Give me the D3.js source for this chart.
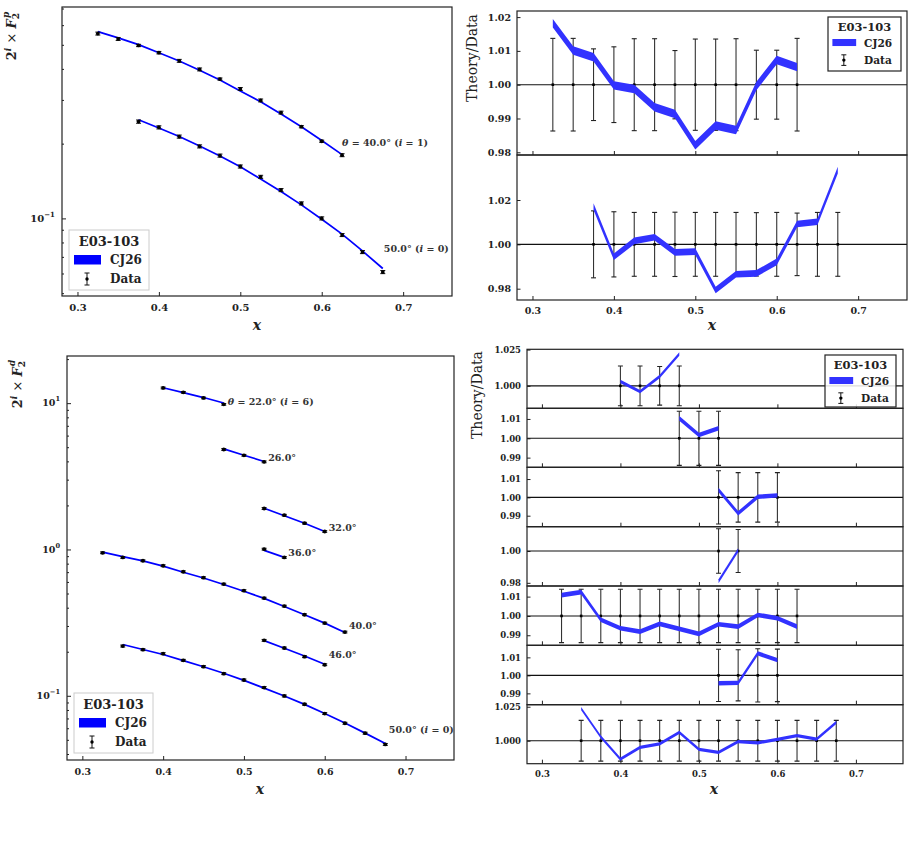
<!DOCTYPE html>
<html>
<head>
<meta charset="utf-8">
<script src="https://cdn.jsdelivr.net/npm/d3@7"></script>
<style>
body{margin:0;background:#fff}
text{font-family:"DejaVu Serif",serif;font-weight:bold;fill:#222}
</style>
</head>
<body>
<svg id="chart" width="914" height="849"></svg>
<script>
// ---- data ----
var xTicks = [0.3, 0.4, 0.5, 0.6, 0.7]

// proton, plotted values are 2^i * F2
var pX40 = [0.325,0.35,0.375,0.4,0.425,0.45,0.475,0.5,0.525,0.55,0.575,0.6,0.625]
var pF40 = [0.555,0.528,0.497,0.465,0.431,0.398,0.364,0.332,0.2985,0.2667,0.234,0.2045,0.1797]
var pErr40 = [0.0137,0.0137,0.0106,0.0112,0.0136,0.0136,0.0101,0.0135,0.0135,0.0136,0.0102,0.0102,0.0137]
var pRatio40 = [1.0182,1.0101,1.0081,0.9998,0.9987,0.9933,0.9913,0.9821,0.9879,0.9866,0.9996,1.0073,1.0052]

var pX50 = [0.375,0.4,0.425,0.45,0.475,0.5,0.525,0.55,0.575,0.6,0.625,0.65,0.675]
var pF50 = [0.2453,0.2326,0.2135,0.195,0.179,0.1618,0.147,0.130,0.1149,0.1,0.0857,0.0732,0.0608]
var pErr50 = [0.0151,0.0147,0.0144,0.0144,0.0145,0.0144,0.0144,0.0144,0.0143,0.0144,0.0141,0.0144,0.0144]
var pRatio50 = [1.017,0.9944,1.0016,1.0032,0.9964,0.9967,0.9794,0.9865,0.9869,0.9921,1.0092,1.0102,1.0335]

// deuteron, plotted values are 2^i * F2
var dX22 = [0.4,0.425,0.45,0.475]
var dF22 = [12.70,11.85,10.85,9.81]
var dErr22 = [0.0137,0.0137,0.0133,0.0137]
var dRatio22 = [1.003,0.996,1.0065,1.022]

var dX26 = [0.475,0.5,0.525]
var dF26 = [4.82,4.40,3.97]
var dErr26 = [0.014,0.014,0.014]
var dRatio26 = [1.0103,1.0017,1.0052]

var dX32 = [0.525,0.55,0.575,0.6]
var dF32 = [1.905,1.714,1.512,1.327]
var dErr32 = [0.0145,0.0135,0.0135,0.0135]
var dRatio32 = [1.004,0.9913,1.0003,1.0011]

var dX36 = [0.525,0.55]
var dF36 = [1.005,0.882]
var dErr36 = [0.014,0.0135]
var dRatio36 = [0.981,1.0005]

var dX40 = [0.325,0.35,0.375,0.4,0.425,0.45,0.475,0.5,0.525,0.55,0.575,0.6,0.625]
var dF40 = [0.949,0.882,0.837,0.774,0.704,0.641,0.580,0.523,0.465,0.410,0.358,0.314,0.2726]
var dErr40 = [0.0138,0.0138,0.0138,0.0138,0.0138,0.0138,0.0138,0.0138,0.0138,0.0138,0.0138,0.0138,0.0138]
var dRatio40 = [1.0108,1.0123,0.998,0.9936,0.9919,0.9959,0.9933,0.9907,0.9957,0.9945,1.0005,0.9988,0.9945]

var dX46 = [0.525,0.55,0.575,0.6]
var dF46 = [0.2392,0.2121,0.185,0.163]
var dErr46 = [0.0145,0.0142,0.0148,0.0146]
var dRatio46 = [0.9956,0.9958,1.0122,1.0085]

var dX50 = [0.35,0.375,0.4,0.425,0.45,0.475,0.5,0.525,0.55,0.575,0.6,0.625,0.65,0.675]
var dF50 = [0.2188,0.2067,0.194,0.1747,0.1582,0.1417,0.1282,0.1138,0.0997,0.0875,0.0756,0.0649,0.0555,0.0465]
var dErr50 = [0.015,0.015,0.015,0.015,0.015,0.015,0.015,0.015,0.015,0.015,0.015,0.015,0.015,0.015]
var dRatio50 = [1.0237,1.0029,0.9865,0.9951,0.9976,1.0062,0.9937,0.9915,0.9993,0.9985,1.001,1.0037,1.0012,1.0135]

// theory band half widths
var pBand = [0.00125, 0.0015]
var dBand = [0.0012,0.0012,0.0012,0.0012,0.0012,0.0012,0.0012]

function rows(xs, fs, es, rs){
  return xs.map(function(x,i){ return {x:x, f:fs[i], e:es[i], r:rs[i]} })
}

var proton = [
  {theta:"40.0", i:1, pts:rows(pX40,pF40,pErr40,pRatio40), band:pBand[0], style:"full", dx:0, dy:-13},
  {theta:"50.0", i:0, pts:rows(pX50,pF50,pErr50,pRatio50), band:pBand[1], style:"i", dx:1, dy:-23}
]
var deut = [
  {theta:"22.0", i:6, pts:rows(dX22,dF22,dErr22,dRatio22), band:dBand[0], style:"full", dx:4, dy:-3},
  {theta:"26.0", i:5, pts:rows(dX26,dF26,dErr26,dRatio26), band:dBand[1], style:"plain", dx:4, dy:-4.5},
  {theta:"32.0", i:4, pts:rows(dX32,dF32,dErr32,dRatio32), band:dBand[2], style:"plain", dx:4, dy:-4},
  {theta:"36.0", i:3, pts:rows(dX36,dF36,dErr36,dRatio36), band:dBand[3], style:"plain", dx:4, dy:-5},
  {theta:"40.0", i:2, pts:rows(dX40,dF40,dErr40,dRatio40), band:dBand[4], style:"plain", dx:4, dy:-6.5},
  {theta:"46.0", i:1, pts:rows(dX46,dF46,dErr46,dRatio46), band:dBand[5], style:"plain", dx:4, dy:-10},
  {theta:"50.0", i:0, pts:rows(dX50,dF50,dErr50,dRatio50), band:dBand[6], style:"i", dx:3.5, dy:-15}
]

var svg = d3.select("#chart")
var X0 = 0.281, X1 = 0.760
var clipId = 0

function frame(l,t,r,b){
  svg.append("rect").attr("x",l).attr("y",t).attr("width",r-l).attr("height",b-t)
    .attr("fill","none").attr("stroke","#222").attr("stroke-width",1.2)
}

function xAxis(x, b, labels, fs, pad){
  var g = svg.append("g").attr("transform","translate(0,"+b+")")
    .call(d3.axisBottom(x).tickValues(xTicks).tickSizeInner(-4).tickSizeOuter(0).tickPadding(pad)
      .tickFormat(labels ? d3.format(".1f") : ""))
  g.select(".domain").remove()
  g.selectAll("line").attr("stroke","#222")
  g.selectAll("text").attr("font-size",fs)
}

function xLabel(cx, cy){
  svg.append("text").attr("x",cx).attr("y",cy).attr("text-anchor","middle")
    .attr("font-size",14).attr("font-style","italic").text("x")
}

function logPanel(l,t,r,b,yDom,series,fs,legendPos,ylab,yLabPos){
  var x = d3.scaleLinear().domain([X0,X1]).range([l,r])
  var y = d3.scaleLog().domain(yDom).range([b,t])

  var g = svg.append("g").attr("transform","translate("+l+",0)")
    .call(d3.axisLeft(y).tickValues(y.ticks()).tickSizeInner(-2).tickSizeOuter(0).tickFormat(""))
  g.select(".domain").remove()
  g.selectAll(".tick line").attr("stroke","#222")
    .attr("x2",function(d){ return Math.abs(Math.log10(d)-Math.round(Math.log10(d)))<1e-9 ? 4 : 2 })

  var majors = y.ticks().filter(function(d){ return Math.abs(Math.log10(d)-Math.round(Math.log10(d)))<1e-9 })
  majors.forEach(function(d){
    var tx = svg.append("text").attr("x",l-7).attr("y",y(d)).attr("dy","0.35em")
      .attr("text-anchor","end").attr("font-size",fs)
    tx.append("tspan").text("10")
    tx.append("tspan").attr("font-size",fs*0.7).attr("dy",-5).text(String(Math.round(Math.log10(d))).replace("-","\u2212"))
  })

  xAxis(x, b, true, fs, 8)

  var line = d3.line().x(function(d){return x(d.x)}).y(function(d){return y(d.f*d.r)})
  series.forEach(function(s){
    svg.append("path").datum(s.pts).attr("d",line).attr("fill","none")
      .attr("stroke","#0000ff").attr("stroke-width",1.7)

    var pg = svg.append("g").selectAll("g").data(s.pts).enter().append("g")
    pg.append("line").attr("x1",function(d){return x(d.x)}).attr("x2",function(d){return x(d.x)})
      .attr("y1",function(d){return y(d.f*(1-d.e))}).attr("y2",function(d){return y(d.f*(1+d.e))})
      .attr("stroke","#111").attr("stroke-width",1.2)
    pg.append("line").attr("x1",function(d){return x(d.x)-2.5}).attr("x2",function(d){return x(d.x)+2.5})
      .attr("y1",function(d){return y(d.f*(1-d.e))}).attr("y2",function(d){return y(d.f*(1-d.e))})
      .attr("stroke","#111").attr("stroke-width",1)
    pg.append("line").attr("x1",function(d){return x(d.x)-2.5}).attr("x2",function(d){return x(d.x)+2.5})
      .attr("y1",function(d){return y(d.f*(1+d.e))}).attr("y2",function(d){return y(d.f*(1+d.e))})
      .attr("stroke","#111").attr("stroke-width",1)
    pg.append("circle").attr("cx",function(d){return x(d.x)}).attr("cy",function(d){return y(d.f)})
      .attr("r",1.9).attr("fill","#000")

    var last = s.pts[s.pts.length-1]
    angleLabel(x(last.x)+s.dx, y(last.f)+s.dy, s, 9.5)
  })

  frame(l,t,r,b)
  legend(legendPos[0],legendPos[1],legendPos[2],legendPos[3],false)

  // y label 2^i x F2
  var yl = svg.append("text").attr("transform","translate("+yLabPos[0]+","+yLabPos[1]+") rotate(-90)")
    .attr("text-anchor","middle").attr("font-size",13)
  yl.append("tspan").text("2")
  yl.append("tspan").attr("font-size",9).attr("font-style","italic").attr("dy",-5).text("i")
  yl.append("tspan").attr("dy",5).style("font-weight","normal").text(" \u00d7 ")
  yl.append("tspan").attr("font-style","italic").text("F")
  yl.append("tspan").attr("font-size",9).attr("dy",3).text("2")
  yl.append("tspan").attr("font-size",9).attr("font-style","italic").attr("dx",-5).attr("dy",-10).text(ylab)
}

function angleLabel(px, py, s, fs){
  var t = svg.append("text").attr("x",px).attr("y",py).attr("dy","0.35em")
    .attr("font-size",fs).style("fill","#333")
  if(s.style=="full"){
    t.append("tspan").attr("font-style","italic").text("\u03b8")
    t.append("tspan").text(" = ")
  }
  t.append("tspan").text(s.theta+"\u00b0")
  if(s.style!="plain"){
    t.append("tspan").text(" (")
    t.append("tspan").attr("font-style","italic").text("i")
    t.append("tspan").text(" = "+s.i+")")
  }
}

function legend(lx, ly, w, h, right){
  var k = right ? 0.88 : 1
  var g = svg.append("g").attr("transform","translate("+lx+","+ly+")")
  g.append("rect").attr("width",w).attr("height",h).attr("fill","#fff").attr("fill-opacity",0.85)
    .attr("stroke", right ? "#222" : "#ccc").attr("stroke-width", right ? 1.2 : 1)
  g.append("text").attr("x",w/2).attr("y",11*k).attr("dy","0.35em").attr("text-anchor","middle")
    .attr("font-size",13*k).text("E03-103")
  g.append("rect").attr("x",5*k).attr("y",25*k).attr("width",27*k).attr("height",(right?8:9.5)*k)
    .attr("fill", right ? "rgb(50,50,255)" : "#0000ff")
  g.append("text").attr("x",41*k).attr("y",30*k).attr("dy","0.35em").attr("font-size",12*k).text("CJ26")
  var sx = 18*k
  g.append("line").attr("x1",sx).attr("x2",sx).attr("y1",43*k).attr("y2",55*k).attr("stroke","#111")
  g.append("line").attr("x1",sx-2.5).attr("x2",sx+2.5).attr("y1",43*k).attr("y2",43*k).attr("stroke","#111")
  g.append("line").attr("x1",sx-2.5).attr("x2",sx+2.5).attr("y1",55*k).attr("y2",55*k).attr("stroke","#111")
  g.append("circle").attr("cx",sx).attr("cy",49*k).attr("r",1.7).attr("fill","#000")
  g.append("text").attr("x",41*k).attr("y",49*k).attr("dy","0.35em").attr("font-size",12*k).text("Data")
}

function ratioPanel(l,r,t,b,dom,ticks,fmt,s,fs,labels){
  var x = d3.scaleLinear().domain([X0,X1]).range([l,r])
  var y = d3.scaleLinear().domain(dom).range([b,t])
  clipId++
  svg.append("clipPath").attr("id","c"+clipId).append("rect")
    .attr("x",l).attr("y",t).attr("width",r-l).attr("height",b-t)

  var g = svg.append("g").attr("transform","translate("+l+",0)")
    .call(d3.axisLeft(y).tickValues(ticks).tickSizeInner(-3.5).tickSizeOuter(0).tickPadding(6)
      .tickFormat(d3.format(fmt)))
  g.select(".domain").remove()
  g.selectAll("line").attr("stroke","#222")
  g.selectAll("text").attr("font-size",fs)

  xAxis(x, b, labels, fs, 7)

  svg.append("line").attr("x1",l).attr("x2",r).attr("y1",y(1)).attr("y2",y(1))
    .attr("stroke","#111").attr("stroke-width",1.1)

  var pg = svg.append("g").attr("clip-path","url(#c"+clipId+")").selectAll("g").data(s.pts).enter().append("g")
  pg.append("line").attr("x1",function(d){return x(d.x)}).attr("x2",function(d){return x(d.x)})
    .attr("y1",function(d){return y(1-d.e)}).attr("y2",function(d){return y(1+d.e)})
    .attr("stroke","#333").attr("stroke-width",1.1)
  pg.append("line").attr("x1",function(d){return x(d.x)-2.5}).attr("x2",function(d){return x(d.x)+2.5})
    .attr("y1",function(d){return y(1-d.e)}).attr("y2",function(d){return y(1-d.e)})
    .attr("stroke","#222").attr("stroke-width",1.1)
  pg.append("line").attr("x1",function(d){return x(d.x)-2.5}).attr("x2",function(d){return x(d.x)+2.5})
    .attr("y1",function(d){return y(1+d.e)}).attr("y2",function(d){return y(1+d.e)})
    .attr("stroke","#222").attr("stroke-width",1.1)
  pg.append("rect").attr("x",function(d){return x(d.x)-1.3}).attr("y",y(1)-1.3)
    .attr("width",2.6).attr("height",2.6).attr("fill","#000")

  var area = d3.area().x(function(d){return x(d.x)})
    .y0(function(d){return y(d.r-s.band)}).y1(function(d){return y(d.r+s.band)})
  svg.append("path").datum(s.pts).attr("d",area).attr("clip-path","url(#c"+clipId+")")
    .attr("fill","rgb(50,50,255)")

  frame(l,t,r,b)
}

function ratioLabel(cx, cy){
  svg.append("text").attr("transform","translate("+cx+","+cy+") rotate(-90)")
    .attr("text-anchor","middle").attr("font-size",14).style("font-weight","normal").text("Theory/Data")
}

// ---- top left: proton ----
logPanel(62,7,452,296,[0.0487,0.71],proton,10,[69,230,80,60],"p",[16,36])
xLabel(257,330)

// ---- bottom left: deuteron ----
logPanel(67,356,454,760,[0.0364,21.0],deut,9.5,[74,693,79,60],"d",[22,384])
xLabel(260,794)

// ---- top right: proton ratios ----
ratioPanel(517,907,11,155,[0.9792,1.0218],[0.98,0.99,1.00,1.01,1.02],".2f",proton[0],9.5,false)
ratioPanel(517,907,155,300,[0.9749,1.0403],[0.98,1.00,1.02],".2f",proton[1],9.5,true)
legend(828,17,73,54,true)
ratioLabel(477,58)
xLabel(712,330)

// ---- bottom right: deuteron ratios ----
var subB = [349.3,408.3,467.3,526.7,586,645.3,704.7,763.7]
var subDom = [[0.9845,1.0252],[0.985,1.0155],[0.984,1.0164],[0.978,1.0153],[0.9848,1.0155],[0.9837,1.0167],[0.9831,1.0265]]
var subTicks = [[1.000,1.025],[0.99,1.00,1.01],[0.99,1.00,1.01],[0.98,1.00],[0.99,1.00,1.01],[0.99,1.00,1.01],[1.000,1.025]]
var subFmt = [".3f",".2f",".2f",".2f",".2f",".2f",".3f"]
deut.forEach(function(s,k){
  ratioPanel(527,903,subB[k],subB[k+1],subDom[k],subTicks[k],subFmt[k],s,8.5,k==6)
})
legend(825,355,71,52,true)
ratioLabel(482,395)
xLabel(714,794)
</script>
</body>
</html>
